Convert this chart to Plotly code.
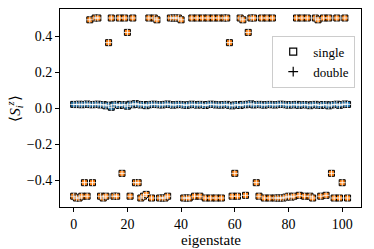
import plotly.graph_objects as go

# eigenstate index
eigenstates = list(range(103))

# <S_i^z> of the first site (orange) for each eigenstate
orange_vals = [
    -0.49, -0.50, -0.50, -0.49, -0.415, -0.49, 0.49, -0.415, 0.50, 0.50,
    -0.49, -0.50, -0.49, 0.363, 0.50, -0.49, -0.49, 0.50, -0.363, 0.50,
    0.42, -0.49, 0.50, -0.415, -0.415, -0.50, -0.49, -0.48, 0.50, -0.50,
    0.50, 0.49, -0.50, -0.50, -0.50, -0.49, 0.50, 0.50, 0.50, 0.50,
    0.49, -0.50, -0.50, -0.50, 0.50, -0.49, 0.50, -0.49, 0.50, -0.50,
    0.50, -0.50, 0.50, -0.50, 0.50, -0.50, 0.50, 0.50, 0.363, -0.49,
    -0.363, -0.49, 0.50, 0.49, -0.485, 0.42, 0.50, 0.50, -0.415, -0.49,
    0.50, -0.50, 0.50, -0.50, 0.50, -0.50, -0.50, -0.50, -0.50, -0.495,
    -0.49, -0.495, -0.49, 0.50, -0.485, 0.50, -0.49, 0.50, -0.49, -0.50,
    0.50, 0.49, -0.49, 0.50, -0.485, 0.50, -0.363, -0.50, 0.50, -0.50,
    -0.415, 0.50, -0.50,
]

# <S_i^z> of the second site (blue) for each eigenstate
blue_vals = [
    0.020, 0.019, 0.021, 0.018, 0.020, 0.022, 0.019, 0.018, 0.020, 0.021,
    0.017, 0.019, 0.012, 0.016, 0.004, 0.018, 0.020, 0.014, 0.019, 0.017,
    0.010, 0.021, 0.018, 0.024, 0.020, 0.017, 0.019, 0.013, 0.018, 0.020,
    0.021, 0.019, 0.018, 0.017, 0.020, 0.022, 0.019, 0.016, 0.018, 0.020,
    0.019, 0.017, 0.015, 0.018, 0.021, 0.019, 0.016, 0.020, 0.018, 0.014,
    0.019, 0.021, 0.020, 0.017, 0.018, 0.016, 0.019, 0.020, 0.015, 0.012,
    0.017, 0.019, 0.014, 0.020, 0.018, 0.021, 0.023, 0.017, 0.019, 0.020,
    0.018, 0.016, 0.019, 0.020, 0.018, 0.017, 0.019, 0.021, 0.020, 0.018,
    0.016, 0.019, 0.017, 0.020, 0.015, 0.018, 0.019, 0.017, 0.013, 0.018,
    0.020, 0.016, 0.014, 0.019, 0.018, 0.012, 0.017, 0.019, 0.021, 0.015,
    0.019, 0.022, 0.020,
]

x_ticks = [0, 20, 40, 60, 80, 100]
y_ticks = [-0.4, -0.2, 0.0, 0.2, 0.4]

ORANGE = "#ff7f0e"
BLUE = "#1f77b4"
FONT = "Liberation Serif"

fig = go.Figure()

# single: filled squares
for vals, col in ((orange_vals, ORANGE), (blue_vals, BLUE)):
    fig.add_trace(go.Scatter(
        x=eigenstates, y=vals, mode="markers", showlegend=False,
        marker=dict(symbol="square", size=6, color=col,
                    line=dict(color="black", width=1)),
    ))
# double: thin plus markers
for vals in (orange_vals, blue_vals):
    fig.add_trace(go.Scatter(
        x=eigenstates, y=vals, mode="markers", showlegend=False,
        marker=dict(symbol="cross-thin", size=5,
                    line=dict(color="rgba(255,255,255,0.85)", width=1)),
    ))

# legend proxies
fig.add_trace(go.Scatter(
    x=[None], y=[None], mode="markers", name="single",
    marker=dict(symbol="square-open", size=7, color="black",
                line=dict(color="black", width=1.2)),
))
fig.add_trace(go.Scatter(
    x=[None], y=[None], mode="markers", name="double",
    marker=dict(symbol="cross-thin", size=7, color="black",
                line=dict(color="black", width=1.2)),
))

axis_common = dict(
    showgrid=False, zeroline=False, showline=True, linecolor="black",
    linewidth=1, mirror=True, ticks="outside", ticklen=4, tickwidth=1,
    tickcolor="black", tickfont=dict(family=FONT, size=14, color="black"),
    automargin=False,
)

fig.update_xaxes(range=[-5.1, 107.0], tickvals=x_ticks, **axis_common)
fig.update_yaxes(range=[-0.55, 0.55], tickvals=y_ticks, tickformat=".1f",
                 **axis_common)

# axis titles
fig.add_annotation(
    text="eigenstate", xref="paper", yref="paper", x=0.5, y=-0.165,
    xanchor="center", yanchor="middle", showarrow=False,
    font=dict(family=FONT, size=15, color="black"),
)
fig.add_annotation(
    text="⟨<i>S</i><sub><i>i</i></sub><sup><i>z</i></sup>⟩",
    xref="paper", yref="paper", x=-0.15, y=0.5, textangle=-90,
    xanchor="center", yanchor="middle", showarrow=False,
    font=dict(family=FONT, size=15, color="black"),
)

fig.update_layout(
    width=374, height=249,
    margin=dict(l=60, r=13, t=9, b=42),
    paper_bgcolor="white", plot_bgcolor="white",
    font=dict(family=FONT, size=15, color="black"),
    legend=dict(
        x=0.705, y=0.865, xanchor="left", yanchor="top",
        bgcolor="white", bordercolor="#cccccc", borderwidth=1,
        font=dict(family=FONT, size=13, color="black"),
        itemwidth=30, tracegroupgap=0,
    ),
)

fig.write_html(
    "out.html",
    config={"displayModeBar": False},
    post_script="document.body.style.margin='0';document.body.style.overflow='hidden';",
)
